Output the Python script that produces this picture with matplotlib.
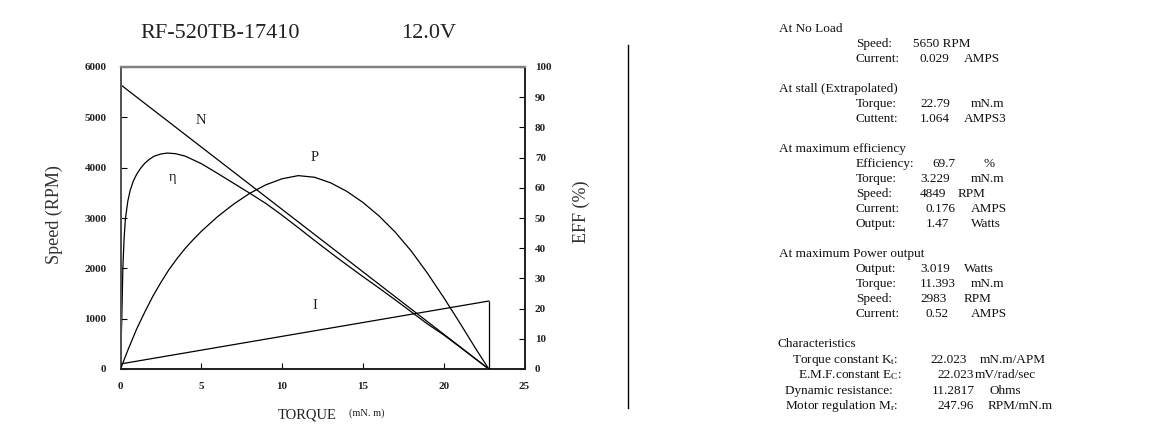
import matplotlib
matplotlib.use("Agg")
import matplotlib.pyplot as plt
from matplotlib.lines import Line2D

plt.rcParams["font.family"] = ["Liberation Serif", "DejaVu Serif"]
plt.rcParams["mathtext.fontset"] = "custom"
plt.rcParams["mathtext.rm"] = "Liberation Serif"
plt.rcParams["mathtext.it"] = "Liberation Serif:italic"

# --- motor data ---
MODEL = "RF-520TB-17410"
VOLTAGE = "12.0V"

noload_speed = 5650      # RPM
noload_current = 0.029   # A
stall_torque = 22.79     # mN.m
stall_current = 1.064    # A

# efficiency curve (torque mN.m, %)
eff_torque = [0, 0.04, 0.08, 0.145, 0.22, 0.3, 0.45, 0.6, 0.8, 1.0, 1.25,
              1.5, 1.8, 2.1, 2.5, 2.9, 3.4, 4.0, 5.0, 6.0, 7.0, 8.0, 9.0,
              10.0, 11.0, 12.0, 13.0, 14.0, 15.0, 16.0, 17.0, 18.0, 19.0,
              20.0, 21.0, 22.0, 22.79]
eff_pct = [0, 9.0, 16.7, 33.2, 43.0, 49.5, 55.5, 59.2, 62.3, 64.5, 66.5,
           68.1, 69.5, 70.5, 71.2, 71.5, 71.3, 70.5, 68.0, 64.8, 61.5, 58.2,
           54.8, 50.9, 46.8, 42.6, 38.5, 34.5, 30.6, 26.8, 22.9, 18.9, 14.9,
           11.3, 7.3, 3.2, 0]

# output power curve (torque mN.m, W)
pow_torque = [0, 0.5, 1, 1.5, 2, 2.5, 3, 3.5, 4, 4.5, 5, 6, 7, 8, 9, 10, 11,
              12, 13, 14, 15, 16, 17, 18, 19, 20, 21, 22, 22.79]
pow_watts = [0, 0.322, 0.625, 0.888, 1.135, 1.352, 1.552, 1.725, 1.882,
             2.020, 2.149, 2.377, 2.574, 2.743, 2.876, 2.970, 3.019, 2.994,
             2.907, 2.774, 2.601, 2.389, 2.137, 1.839, 1.493, 1.116, 0.719,
             0.310, 0]

torque_ticks = [0, 5, 10, 15, 20, 25]
speed_ticks = [0, 1000, 2000, 3000, 4000, 5000, 6000]
eff_ticks = [0, 10, 20, 30, 40, 50, 60, 70, 80, 90, 100]

W, H = 1163, 433
fig = plt.figure(figsize=(W / 100, H / 100), dpi=100)


def fx(px):
    return px / W


def fy(py):
    return 1 - py / H


ax = fig.add_axes([fx(120.5), fy(369), fx(524.5) - fx(120.5), fy(67) - fy(369)])
ax.set_xlim(0, 25)
ax.set_ylim(0, 6000)

# speed line N
ax.plot([0, stall_torque], [noload_speed, 0], color="black", lw=0.9)

# efficiency on right axis
ax2 = ax.twinx()
ax2.set_ylim(0, 100)
ax2.plot(eff_torque, eff_pct, color="black", lw=0.9)

# power on a hidden axis
ax_p = ax.twinx()
ax_p.set_ylim(0, 4.715)
ax_p.axis("off")
ax_p.plot(pow_torque, pow_watts, color="black", lw=0.9)

# current on a hidden axis
ax_i = ax.twinx()
ax_i.set_ylim(-0.054, 4.914)
ax_i.axis("off")
ax_i.plot([0, stall_torque], [noload_current, stall_current], color="black", lw=0.9)
ax_i.vlines(stall_torque, -0.054, stall_current, color="black", lw=0.9)

# ticks
tick_font = dict(fontsize=8, fontweight="bold", color="#222222")
ax.set_xticks(torque_ticks, labels=[str(t) for t in torque_ticks], **tick_font)
ax.set_yticks(speed_ticks, labels=[str(s) for s in speed_ticks], **tick_font)
ax2.set_yticks(eff_ticks, labels=[str(e) for e in eff_ticks], **tick_font)
ax.tick_params(axis="x", direction="in", length=4, width=0.8, pad=9.5)
ax.tick_params(axis="y", direction="in", length=4, width=0.8, pad=10)
ax2.tick_params(axis="y", direction="in", length=4, width=0.8, pad=7.5)

for a in (ax, ax2):
    a.spines["top"].set_color("#808080")
    a.spines["top"].set_linewidth(1.6)
    a.spines["left"].set_color("#555555")
    a.spines["left"].set_linewidth(1.4)
    a.spines["bottom"].set_color("#222222")
    a.spines["bottom"].set_linewidth(1.3)
    a.spines["right"].set_color("#222222")
    a.spines["right"].set_linewidth(1.3)

# axis labels
ax.set_ylabel("Speed (RPM)", fontsize=13, color="#333333")
ax.yaxis.set_label_coords(-0.142, 0.513)
ax2.set_ylabel("EFF (%)", fontsize=13, color="#333333")
ax2.yaxis.set_label_coords(1.12, 0.52)
fig.text(fx(307), fy(415), "TORQUE", fontsize=10.5, ha="center", va="center",
         color="#222222")
fig.text(fx(367), fy(413), "(mN. m)", fontsize=7.5, ha="center", va="center",
         color="#222222")

# curve labels
lab = dict(fontsize=10.5, ha="center", va="center", color="#222222")
ax.text(5.0, 4931, "N", **lab)
ax.text(3.2, 3802, "η", **lab)
ax.text(12.0, 4198, "P", **lab)
ax.text(12.0, 1267, "I", **lab)

# title
fig.text(fx(220), fy(34), MODEL, fontsize=16, ha="center", va="center",
         color="#222222")
fig.text(fx(429), fy(34), VOLTAGE, fontsize=16, ha="center", va="center",
         color="#222222")

# separator
fig.add_artist(Line2D([fx(628), fx(628)], [fy(45), fy(408)],
                      color="black", lw=1.0))

# info panel
panel = [
    ("At No Load", 779, 29),
    ("Speed:", 856, 44), (f"{noload_speed} RPM", 913, 44),
    ("Current:", 856, 59), (f"{noload_current:.3f}", 920, 59), ("AMPS", 964, 59),
    ("At stall (Extrapolated)", 779, 89),
    ("Torque:", 856, 104), (f"{stall_torque:.2f}", 920, 104), ("mN.m", 971, 104),
    ("Cuttent:", 856, 119), (f"{stall_current:.3f}", 920, 119), ("AMPS3", 964, 119),
    ("At maximum efficiency", 779, 149),
    ("Efficiency:", 856, 164), ("69.7", 932, 164), ("%", 983, 164),
    ("Torque:", 856, 179), ("3.229", 920, 179), ("mN.m", 971, 179),
    ("Speed:", 856, 194), ("4849", 920, 194), ("RPM", 958, 194),
    ("Current:", 856, 209), ("0.176", 926, 209), ("AMPS", 971, 209),
    ("Output:", 856, 224), ("1.47", 926, 224), ("Watts", 971, 224),
    ("At maximum Power output", 779, 254),
    ("Output:", 856, 269), ("3.019", 920, 269), ("Watts", 964, 269),
    ("Torque:", 856, 284), ("11.393", 920, 284), ("mN.m", 971, 284),
    ("Speed:", 856, 299), ("2983", 920, 299), ("RPM", 964, 299),
    ("Current:", 856, 314), ("0.52", 926, 314), ("AMPS", 971, 314),
    ("Characteristics", 778, 344),
    (r"Torque constant K$_\mathrm{t}$:", 792, 360), ("22.023", 930, 360),
    ("mN.m/APM", 980, 360),
    (r"E.M.F.constant E$_\mathrm{C}$:", 798, 375), ("22.023", 937, 375),
    ("mV/rad/sec", 975, 375),
    ("Dynamic resistance:", 785, 391), ("11.2817", 932, 391), ("Ohms", 990, 391),
    (r"Motor regulation M$_\mathrm{r}$:", 785, 406), ("247.96", 937, 406),
    ("RPM/mN.m", 988, 406),
]
for text, px, py in panel:
    fig.text(fx(px), fy(py), text, fontsize=9.5, ha="left", va="center",
             color="#111111")

fig.savefig("out.png", dpi=100)
